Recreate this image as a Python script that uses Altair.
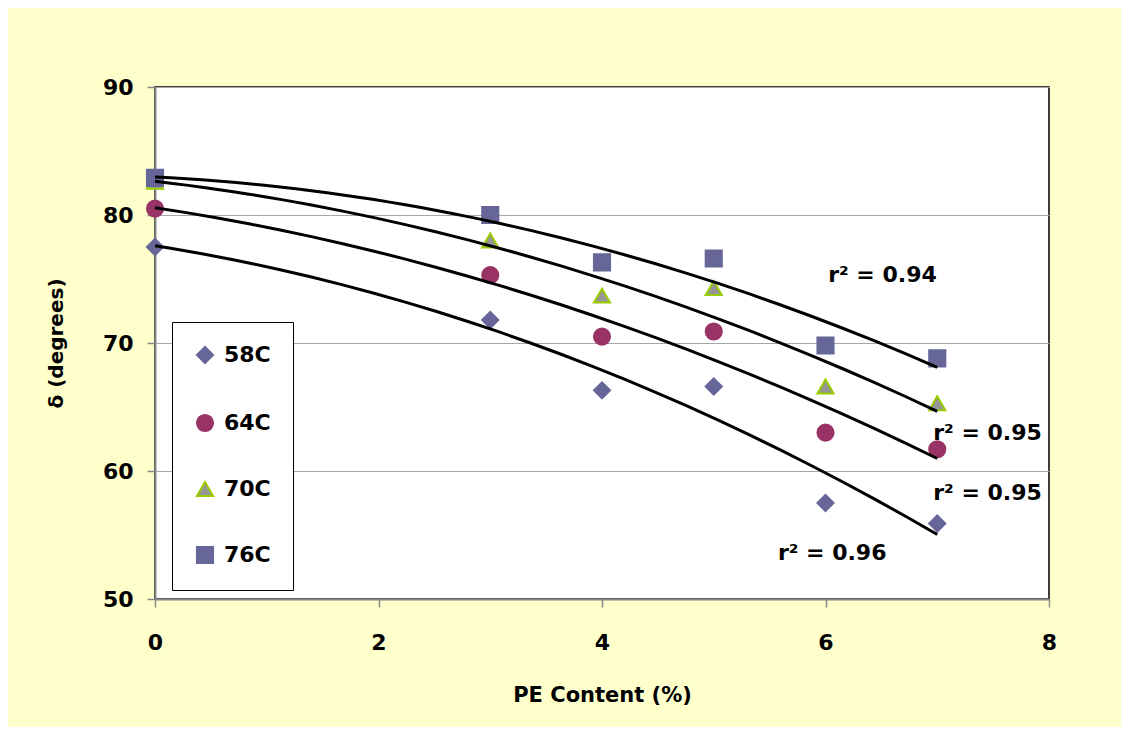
import altair as alt
import pandas as pd

pe_content = [0, 3, 4, 5, 6, 7]
series_names = ["58C", "64C", "70C", "76C"]
delta_58 = [77.5, 71.8, 66.3, 66.6, 57.5, 55.9]
delta_64 = [80.5, 75.3, 70.5, 70.9, 63.0, 61.7]
delta_70 = [82.6, 78.0, 73.7, 74.3, 66.6, 65.3]
delta_76 = [82.9, 80.0, 76.3, 76.6, 69.8, 68.8]

note_text = ["r² = 0.94", "r² = 0.95", "r² = 0.95", "r² = 0.96"]
note_x = [6.51, 7.45, 7.45, 6.06]
note_y = [75.3, 63.0, 58.3, 53.6]

rows = []
for name, vals in zip(series_names, [delta_58, delta_64, delta_70, delta_76]):
    for x, y in zip(pe_content, vals):
        rows.append({"series": name, "x": x, "y": y})
df = pd.DataFrame(rows)
notes = pd.DataFrame({"label": note_text, "x": note_x, "y": note_y})

FONT = "DejaVu Sans"
fills = ["#666699", "#993366", "#969696", "#666699"]
strokes = ["#666699", "#993366", "#99CC00", "#666699"]
shapes = ["diamond", "circle", "triangle-up", "square"]

xscale = alt.Scale(domain=[0, 8], nice=False)
yscale = alt.Scale(domain=[50, 90], nice=False)

xenc = alt.X("x:Q", scale=xscale, title="PE Content (%)",
             axis=alt.Axis(values=[0, 2, 4, 6, 8], format="d", grid=False, labelFlush=False))
yenc = alt.Y("y:Q", scale=yscale, title="δ (degrees)",
             axis=alt.Axis(values=[50, 60, 70, 80, 90], format="d", grid=True, labelFlush=False))

legend = alt.Legend(
    title=None, orient="none", legendX=17, legendY=235, direction="vertical",
    strokeColor="black", fillColor="white", padding=22, rowPadding=42,
    labelFontSize=22, labelFont=FONT, labelFontWeight="bold", labelColor="black",
    symbolSize=260, symbolStrokeWidth=2, symbolOpacity=1, labelOffset=8,
)

points = alt.Chart(df).mark_point(filled=True, size=260, opacity=1, strokeWidth=2).encode(
    x=xenc, y=yenc,
    fill=alt.Fill("series:N", scale=alt.Scale(domain=series_names, range=fills), legend=legend),
    stroke=alt.Stroke("series:N", scale=alt.Scale(domain=series_names, range=strokes), legend=legend),
    shape=alt.Shape("series:N", scale=alt.Scale(domain=series_names, range=shapes), legend=legend),
)

trend = alt.Chart(df).transform_regression(
    "x", "y", method="poly", order=2, groupby=["series"]
).mark_line(color="black", strokeWidth=3).encode(
    x=alt.X("x:Q", scale=xscale), y=alt.Y("y:Q", scale=yscale), detail="series:N"
)

labels = alt.Chart(notes).mark_text(
    font=FONT, fontSize=22, fontWeight="bold", color="black", align="center", baseline="middle"
).encode(x=alt.X("x:Q", scale=xscale), y=alt.Y("y:Q", scale=yscale), text="label:N")

chart = alt.layer(points, trend, labels).properties(
    width=894, height=512,
    background="#FFFFCC",
    autosize=alt.AutoSizeParams(type="none"),
    padding={"left": 147, "top": 79, "right": 72, "bottom": 128},
).configure_view(
    fill="white", stroke="black", strokeWidth=1.5
).configure_axis(
    labelFont=FONT, labelFontSize=22, labelFontWeight="bold", labelColor="black",
    titleFont=FONT, titleFontSize=21, titleFontWeight="bold", titleColor="black",
    domainColor="#888888", domainWidth=2, tickColor="#888888", tickSize=8, tickWidth=1.5,
    gridColor="#A6A6A6", gridWidth=1.2,
).configure_axisX(
    labelPadding=25, titlePadding=31
).configure_axisY(
    labelPadding=14, titlePadding=36, titleFontSize=20
)

chart.save("out.html", embed_options={"renderer": "svg", "actions": False})
